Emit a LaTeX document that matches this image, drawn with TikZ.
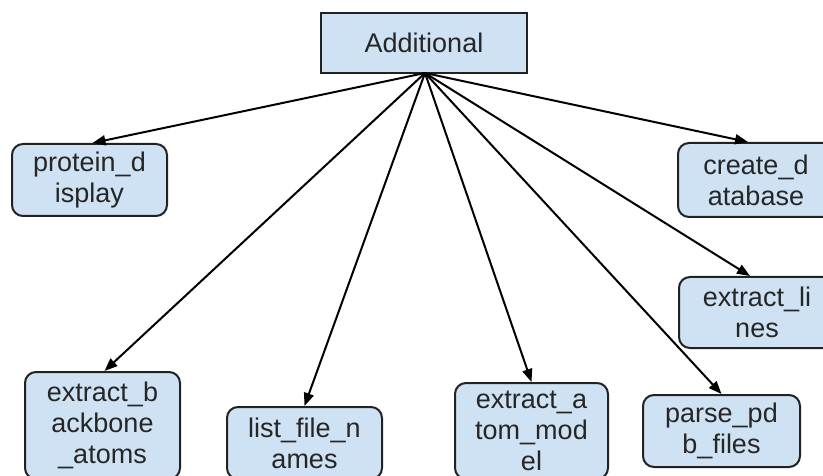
\documentclass[tikz,border=0pt]{standalone}
\usepackage{fontspec}
\setmainfont{Liberation Sans}
\usetikzlibrary{arrows.meta}
\definecolor{boxfill}{HTML}{CFE2F3}
\definecolor{boxline}{HTML}{222222}
\definecolor{txt}{HTML}{262626}
\tikzset{
  basebox/.style={draw=boxline, line width=2pt, fill=boxfill, text=txt,
    font=\fontsize{27}{31}\selectfont, align=center, inner sep=0pt},
  roundbox/.style={basebox, rounded corners=11pt},
  arr/.style={draw=black, line width=2pt, -{Triangle[length=13pt,width=10pt]}}
}
\begin{document}
\begin{tikzpicture}[x=1pt,y=-1pt]
\clip (0,0) rectangle (823,476);
\fill[white] (0,0) rectangle (823,476);

\node[basebox, minimum width=206pt, minimum height=60pt] (add) at (424,43) {Additional};

\node[roundbox, minimum width=155pt, minimum height=72pt] (pd) at (89.5,180) {protein\_d\\isplay};
\node[roundbox, minimum width=156pt, minimum height=74pt] (cd) at (756,180) {create\_d\\atabase};
\node[roundbox, minimum width=156pt, minimum height=71pt] (el) at (757,312.5) {extract\_li\\nes};
\node[roundbox, minimum width=155pt, minimum height=107pt] (eb) at (102.5,425.5) {extract\_b\\ackbone\\\_atoms};
\node[roundbox, minimum width=155pt, minimum height=72pt] (lf) at (304.5,443) {list\_file\_n\\ames};
\node[roundbox, minimum width=153pt, minimum height=96pt] (ea) at (531.5,431) {extract\_a\\tom\_mod\\el};
\node[roundbox, minimum width=157pt, minimum height=72pt] (pp) at (721.5,431) {parse\_pd\\b\_files};

\coordinate (hub) at (425,73);
\draw[arr] (hub) -- ([xshift=3pt]pd.north);
\draw[arr] (hub) -- ([xshift=-8pt]cd.north);
\draw[arr] (hub) -- ([xshift=-7pt]el.north);
\draw[arr] (hub) -- ([xshift=2pt]eb.north);
\draw[arr] (hub) -- (lf.north);
\draw[arr] (hub) -- (ea.north);
\draw[arr] (hub) -- (pp.north);
\end{tikzpicture}
\end{document}
